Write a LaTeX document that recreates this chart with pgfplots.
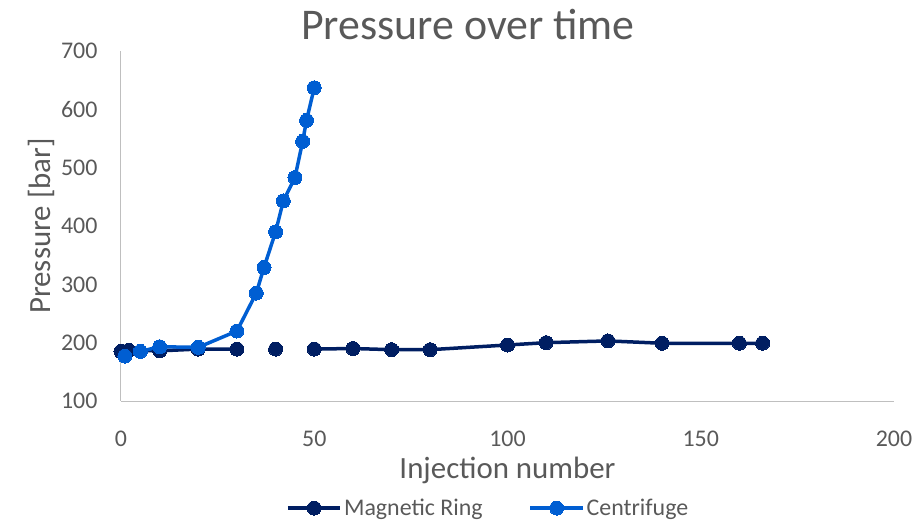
\documentclass[border=0pt]{standalone}
\usepackage{fontspec}
\setmainfont{Carlito}
\usepackage{pgfplots}
\pgfplotsset{compat=1.18}
\definecolor{ringcol}{RGB}{0,30,98}
\definecolor{centcol}{RGB}{0,94,210}
\definecolor{txtgray}{RGB}{89,89,89}
\definecolor{axgray}{RGB}{191,191,191}
\begin{document}
\begin{tikzpicture}
\useasboundingbox (-121bp,-119bp) rectangle (801bp,401bp);
\begin{axis}[
  at={(0,0)}, anchor=south west,
  scale only axis, width=773bp, height=350bp,
  xmin=0, xmax=200, ymin=100, ymax=700,
  xtick={0,50,100,150,200}, ytick={100,200,...,700},
  axis x line*=bottom, axis y line*=left,
  axis line style={axgray, line width=1pt, -},
  major tick length=0pt,
  tick label style={font=\fontsize{24}{26}\selectfont, text=txtgray},
  /pgf/number format/assume math mode=true,
  yticklabel style={xshift=-20bp},
  xticklabel style={yshift=-26bp},
  xlabel={Injection number}, ylabel={Pressure [bar]},
  label style={font=\fontsize{31}{33}\selectfont, text=txtgray},
  xlabel style={yshift=-4bp},
  ylabel style={yshift=0bp},
  unbounded coords=jump,
  clip=false,
  legend style={at={(0.475,-0.306)}, anchor=center, draw=none, fill=none,
    legend columns=2, font=\fontsize{24}{26}\selectfont, text=txtgray,
    /tikz/every even column/.append style={column sep=44bp}},
  legend image code/.code={
    \draw[#1, mark=none] (0cm,0cm) -- (1.85cm,0cm);
    \draw[#1, only marks] plot coordinates {(0.925cm,0cm)};
  },
]
\addplot[color=ringcol, line width=3.5bp, mark=*, mark size=7bp,
  mark options={fill=ringcol, draw=ringcol, line width=0pt}]
  coordinates {
  (0,185) (2,187) (10,186) (20,189) (30,189) (nan,nan) (40,189) (nan,nan)
  (50,189) (60,190) (70,188) (80,188) (100,196) (110,200) (126,203)
  (140,199) (160,199) (166,199)
  };
\addlegendentry{Magnetic Ring}
\addplot[color=centcol, line width=3.5bp, mark=*, mark size=7bp,
  mark options={fill=centcol, draw=centcol, line width=0pt}]
  coordinates {
  (1,177) (5,185) (10,193) (20,192) (30,220) (35,285) (37,329) (40,390)
  (42,443) (45,483) (47,545) (48,581) (50,637)
  };
\addlegendentry{Centrifuge}
\end{axis}
\node[font=\fontsize{44}{46}\selectfont, text=txtgray] at (347bp,376bp) {Pressure over time};
\end{tikzpicture}
\end{document}
